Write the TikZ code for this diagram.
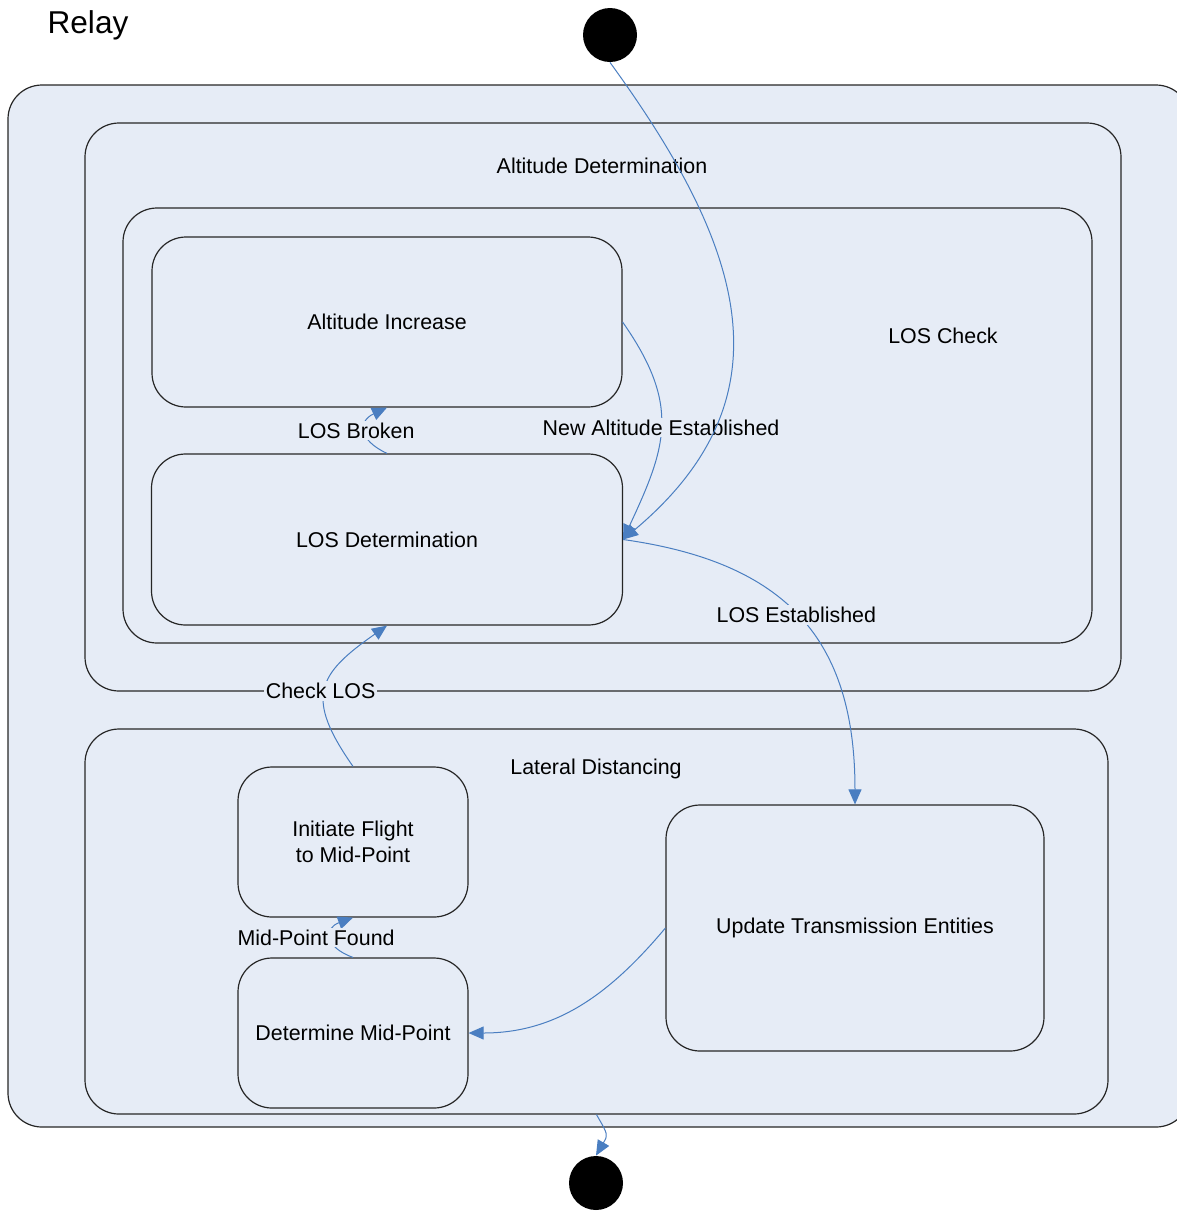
\documentclass[tikz,border=0pt]{standalone}
\usepackage{fontspec}
\setmainfont{Liberation Sans}
\usetikzlibrary{positioning,arrows.meta}
\definecolor{regionfill}{RGB}{230,236,246}
\definecolor{transblue}{RGB}{74,126,193}

\begin{document}
\begin{tikzpicture}[x=0.5pt,y=-0.5pt,on grid,>={Triangle[length=7.5pt,width=6.5pt]},
		every node/.style={font=\fontsize{10.7pt}{13pt}\selectfont},
		region/.style={draw=black!85,line width=0.6pt,fill=regionfill,rounded corners=17pt,inner sep=0pt},
		state/.style={region,align=center},
		pseudo/.style={circle,fill=black,minimum size=27pt,inner sep=0pt},
		trans/.style={color=transblue,line width=0.5pt},
		lbl/.style={fill=regionfill,text=black,inner sep=1pt}]
		\useasboundingbox (0,0) rectangle (1177,1212);
		\node[region,minimum width=591pt,minimum height=521pt] (relay) at (599,606) {};
		\node[region,minimum width=518pt,minimum height=284pt] (alt_det) at (603,407) {};
		\node[region,minimum width=484.5pt,minimum height=217.5pt] (los_check) at (607.5,425.5) {};
		\node[state,minimum width=235pt,minimum height=85pt] (alt_inc) at (387,322) {Altitude Increase};
		\node[state,minimum width=235.5pt,minimum height=85.5pt] (los_det) [below=108.75pt of alt_inc] {LOS Determination};
		\node[region,minimum width=511.5pt,minimum height=192.5pt] (lat_dist) at (596.5,921.5) {};
		\node[state,minimum width=115pt,minimum height=75pt] (init_fl) at (353,842) {Initiate Flight\\to Mid-Point};
		\node[state,minimum width=115pt,minimum height=75pt] (det_mid) [below=95.5pt of init_fl] {Determine Mid-Point};
		\node[state,minimum width=189pt,minimum height=123pt] (upd_tx) at (855,928) {Update Transmission Entities};
		\node[pseudo] (start) at (610,35) {};
		\node[pseudo] (stop) at (596,1183) {};
		\node[font=\fontsize{15.8pt}{19pt}\selectfont] (relay_name) at (88,25) {Relay};
		\node (alt_det_name) at (602,166) {Altitude Determination};
		\node (los_check_name) at (943,336) {LOS Check};
		\node (lat_dist_name) at (596,769) {Lateral Distancing};
		\path[->,trans]
		(alt_inc.east) edge[out=-55,in=65,looseness=1.2] node[lbl] {New Altitude Established} (los_det.east)
		(start.south) edge[out=-54,in=40,looseness=1.2] (los_det.east)
		(los_det.north) edge[out=155,in=-155,looseness=1.8] node[lbl,xshift=-4.5pt] {LOS Broken} (alt_inc.south)
		(los_det.east) edge[out=-8,in=90,looseness=1.2] node[lbl,xshift=-2pt,yshift=2pt] {LOS Established} (upd_tx.north)
		(init_fl.north) edge[out=125,in=-145,looseness=1.5] node[lbl,xshift=-2.5pt,yshift=-1.5pt] {Check LOS} (los_det.south)
		(det_mid.north) edge[out=160,in=-160,looseness=2] node[lbl,xshift=-7.5pt] {Mid-Point Found} (init_fl.south)
		(upd_tx.west) edge[out=-130,in=0] (det_mid.east)
		(lat_dist.south) edge[out=-60,in=60,looseness=1.5] (stop.north);
	\end{tikzpicture}
\end{document}
